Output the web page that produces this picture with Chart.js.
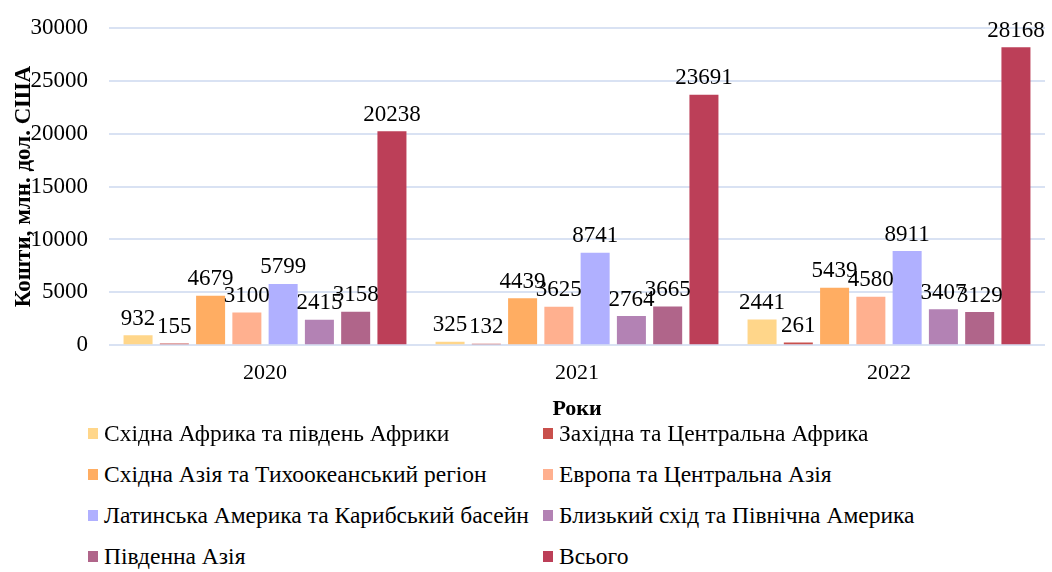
<!DOCTYPE html>
<html>
<head>
<meta charset="utf-8">
<script src="https://cdn.jsdelivr.net/npm/chart.js@4/dist/chart.umd.min.js"></script>
<style>
  body { margin: 0; background: #fff; font-family: "Liberation Serif", "Times New Roman", serif; }
  #wrap { position: relative; width: 1052px; height: 572px; }
  #c { position: absolute; left: 0; top: 0; }
  #legend { position: absolute; left: 88px; top: 420px; width: 960px; }
  .item { position: absolute; display: flex; align-items: center; font-size: 23.5px; color: #000; white-space: nowrap; }
  .box { width: 10px; height: 11px; margin-right: 6px; }
</style>
</head>
<body>
<div id="wrap">
  <canvas id="c" width="1052" height="427"></canvas>
  <div id="legend"></div>
</div>
<script>
var years = ['2020', '2021', '2022'];
var regions = [
    'Східна Африка та південь Африки',
    'Західна та Центральна Африка',
    'Східна Азія та Тихоокеанський регіон',
    'Европа та Центральна Азія',
    'Латинська Америка та Карибський басейн',
    'Близький схід та Північна Америка',
    'Південна Азія',
    'Всього'
];
var eastSouthAfrica = [932, 325, 2441];
var westCentralAfrica = [155, 132, 261];
var eastAsiaPacific = [4679, 4439, 5439];
var europeCentralAsia = [3100, 3625, 4580];
var latinAmerica = [5799, 8741, 8911];
var middleEastNA = [2415, 2764, 3407];
var southAsia = [3158, 3665, 3129];
var total = [20238, 23691, 28168];
var yTicks = [0, 5000, 10000, 15000, 20000, 25000, 30000];

var seriesValues = [eastSouthAfrica, westCentralAfrica, eastAsiaPacific, europeCentralAsia,
                    latinAmerica, middleEastNA, southAsia, total];
var colors = ['#FFD68A', '#C9504C', '#FFAD62', '#FFB08F', '#B0B0FF', '#B382B4', '#B0658A', '#BC3F58'];

var font = '"Liberation Serif", "Times New Roman", serif';

var datasets = regions.map(function(name, i) {
    return { label: name, data: seriesValues[i], backgroundColor: colors[i], borderWidth: 0 };
});

// підписи над стовпцями
var valueLabels = {
    id: 'valueLabels',
    afterDatasetsDraw: function(chart) {
        var ctx = chart.ctx;
        ctx.save();
        ctx.font = '23px ' + font;
        ctx.fillStyle = '#000';
        ctx.textAlign = 'center';
        ctx.textBaseline = 'bottom';
        chart.data.datasets.forEach(function(ds, i) {
            chart.getDatasetMeta(i).data.forEach(function(bar, j) {
                ctx.fillText(String(ds.data[j]), bar.x, bar.y - 5);
            });
        });
        ctx.restore();
    }
};

var chart = new Chart(document.getElementById('c').getContext('2d'), {
    type: 'bar',
    data: { labels: years, datasets: datasets },
    options: {
        responsive: false,
        animation: false,
        layout: { padding: { top: 28, right: 7, left: 0, bottom: 0 } },
        datasets: { bar: { categoryPercentage: 0.93, barPercentage: 0.8 } },
        plugins: { legend: { display: false }, tooltip: { enabled: false } },
        scales: {
            x: {
                grid: { display: false },
                border: { display: false },
                ticks: { color: '#000', font: { family: font, size: 22 }, padding: 7 },
                title: { display: true, text: 'Роки', color: '#000', font: { family: font, size: 22, weight: 'bold' }, padding: { top: 3 } }
            },
            y: {
                min: 0,
                max: 30000,
                afterBuildTicks: function(axis) {
                    axis.ticks = yTicks.map(function(v) { return { value: v }; });
                },
                afterFit: function(axis) {
                    axis.width = 109;
                    axis.paddingTop = 0;
                    axis.paddingBottom = 0;
                },
                grid: { color: '#D9E2F3', lineWidth: 2, drawTicks: false },
                border: { display: false },
                ticks: {
                    color: '#000', font: { family: font, size: 23 }, padding: 21,
                    callback: function(v) { return String(v); }
                },
                title: { display: true, text: 'Кошти, млн. дол. США', color: '#000', font: { family: font, size: 23, weight: 'bold' }, padding: { top: 10, bottom: 0 } }
            }
        }
    },
    plugins: [valueLabels]
});

// легенда у два стовпці
var legend = document.getElementById('legend');
regions.forEach(function(name, i) {
    var item = document.createElement('div');
    item.className = 'item';
    item.style.left = (i % 2 === 0 ? 0 : 455) + 'px';
    item.style.top = (Math.floor(i / 2) * 41) + 'px';
    var box = document.createElement('span');
    box.className = 'box';
    box.style.background = colors[i];
    var txt = document.createElement('span');
    txt.textContent = name;
    item.appendChild(box);
    item.appendChild(txt);
    legend.appendChild(item);
});
</script>
</body>
</html>
